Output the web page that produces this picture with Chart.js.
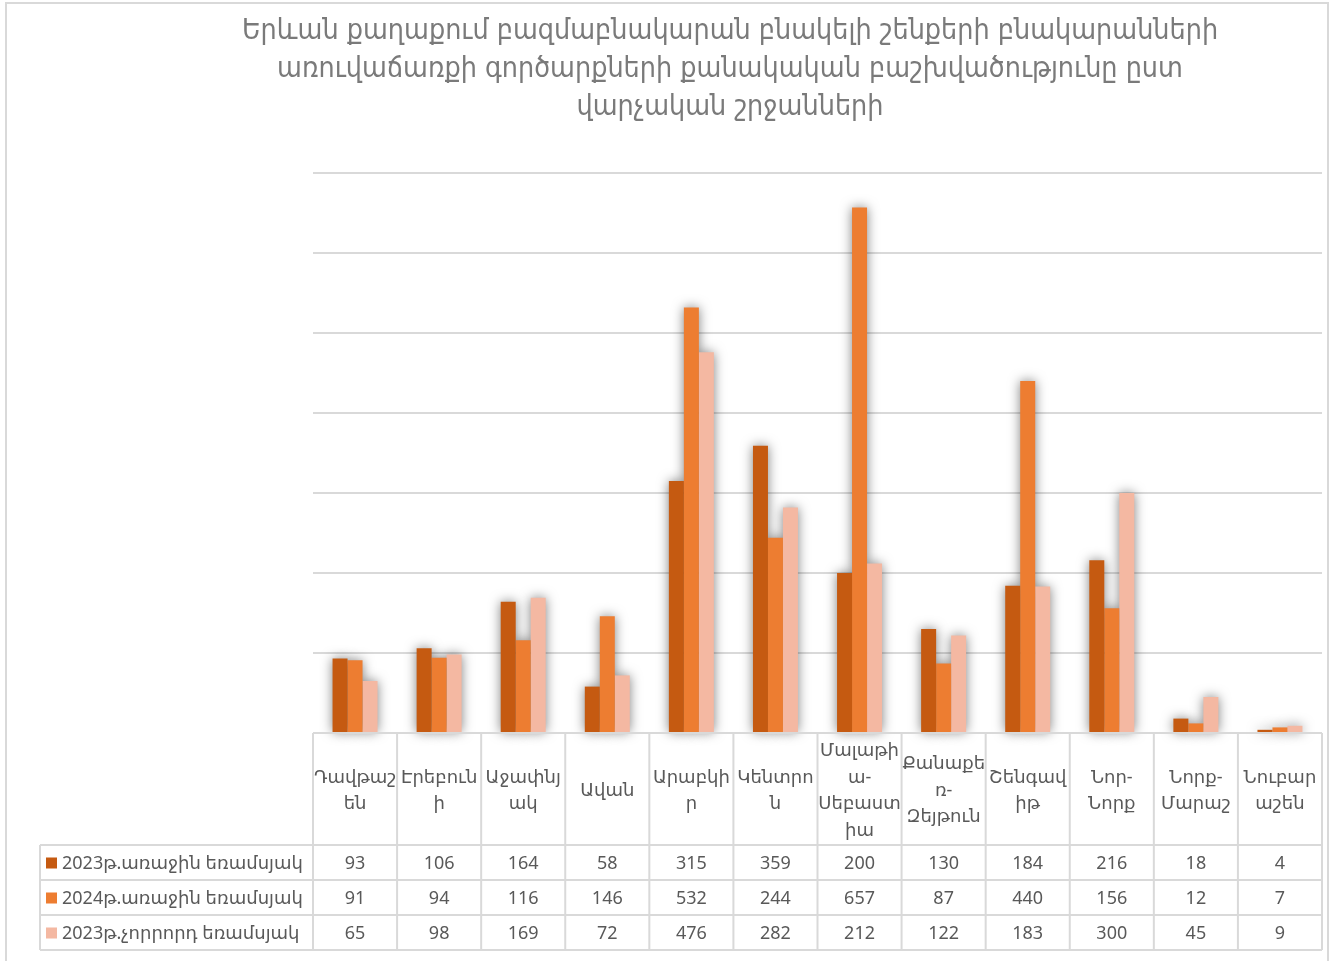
<!DOCTYPE html>
<html>
<head>
<meta charset="utf-8">
<script src="https://cdn.jsdelivr.net/npm/chart.js@4"></script>
<style>
  html, body { margin: 0; padding: 0; background: #fff; }
  #wrap { width: 1332px; height: 961px; position: relative; }
</style>
</head>
<body>
<div id="wrap"><canvas id="c" width="1332" height="961"></canvas></div>
<script>
// data
const titleLines = [
  'Երևան քաղաքում բազմաբնակարան բնակելի շենքերի բնակարանների',
  'առուվաճառքի գործարքների քանակական բաշխվածությունը ըստ',
  'վարչական շրջանների'
];
const districts = [
  ['Դավթաշ', 'են'], ['Էրեբուն', 'ի'], ['Աջափնյ', 'ակ'], ['Ավան'], ['Արաբկի', 'ր'],
  ['Կենտրո', 'ն'], ['Մալաթի', 'ա-', 'Սեբաստ', 'իա'], ['Քանաքե', 'ռ-', 'Զեյթուն'],
  ['Շենգավ', 'իթ'], ['Նոր-', 'Նորք'], ['Նորք-', 'Մարաշ'], ['Նուբար', 'աշեն']
];
const seriesNames = ['2023թ.առաջին եռամսյակ', '2024թ.առաջին եռամսյակ', '2023թ.չորրորդ եռամսյակ'];
const q1_2023 = [93, 106, 164, 58, 315, 359, 200, 130, 184, 216, 18, 4];
const q1_2024 = [91, 94, 116, 146, 532, 244, 657, 87, 440, 156, 12, 7];
const q4_2023 = [65, 98, 169, 72, 476, 282, 212, 122, 183, 300, 45, 9];
const yMax = 700, yStep = 100;

const colors = ['#C55A11', '#ED7D31', '#F4B8A2'];
const FONT = "'Noto Sans', 'DejaVu Sans', sans-serif";
const GRID = '#d9d9d9';
const TXT = '#595959';
const ROW_H = 35;
const TABLE_LEFT = 40;

// frame + white bg
const framePlugin = {
  id: 'frame',
  beforeDraw(chart) {
    const ctx = chart.ctx;
    ctx.save();
    ctx.fillStyle = '#fff';
    ctx.fillRect(0, 0, chart.width, chart.height);
    ctx.strokeStyle = GRID;
    ctx.lineWidth = 2;
    ctx.strokeRect(6, 3, 1322, 980);
    ctx.restore();
  }
};

// soft shadow behind the bars (only the shadow is drawn here)
const shadowPlugin = {
  id: 'barShadow',
  beforeDatasetsDraw(chart) {
    const ctx = chart.ctx, OFF = 5000;
    ctx.save();
    ctx.shadowColor = 'rgba(0,0,0,0.5)';
    ctx.shadowBlur = 12;
    ctx.shadowOffsetX = -OFF;
    ctx.fillStyle = '#000';
    chart.data.datasets.forEach((ds, di) => {
      chart.getDatasetMeta(di).data.forEach(bar => {
        const p = bar.getProps(['x', 'y', 'base', 'width'], true);
        ctx.fillRect(p.x - p.width / 2 + OFF, p.y, p.width, p.base - p.y);
      });
    });
    ctx.restore();
  }
};

// data table under the axis
const tablePlugin = {
  id: 'dataTable',
  afterDraw(chart) {
    const ctx = chart.ctx, area = chart.chartArea, xs = chart.scales.x;
    const n = chart.data.labels.length;
    const colW = (area.right - area.left) / n;
    const bottom = xs.bottom;
    const hdrBottom = bottom - ROW_H * 3;
    ctx.save();
    ctx.strokeStyle = GRID;
    ctx.lineWidth = 2;
    ctx.beginPath();
    ctx.moveTo(area.left, area.bottom); ctx.lineTo(area.right, area.bottom);
    for (let r = 0; r <= 3; r++) {
      const y = hdrBottom + r * ROW_H;
      ctx.moveTo(TABLE_LEFT, y); ctx.lineTo(area.right, y);
    }
    for (let i = 0; i <= n; i++) {
      const x = xs.getPixelForValue(0) - colW / 2 + i * colW;
      ctx.moveTo(x, area.bottom); ctx.lineTo(x, bottom);
    }
    ctx.moveTo(TABLE_LEFT, hdrBottom); ctx.lineTo(TABLE_LEFT, bottom);
    ctx.stroke();

    ctx.font = '18px ' + FONT;
    ctx.textBaseline = 'middle';
    chart.data.datasets.forEach((ds, di) => {
      const cy = hdrBottom + ROW_H * di + ROW_H / 2;
      ctx.fillStyle = ds.backgroundColor;
      ctx.fillRect(TABLE_LEFT + 6, cy - 5, 11, 11);
      ctx.fillStyle = TXT;
      ctx.textAlign = 'left';
      ctx.fillText(ds.label, TABLE_LEFT + 22, cy + 1);
      ctx.textAlign = 'center';
      ds.data.forEach((v, i) => {
        ctx.fillText(String(v), xs.getPixelForValue(i), cy + 1);
      });
    });
    ctx.restore();
  }
};

new Chart(document.getElementById('c'), {
  type: 'bar',
  data: {
    labels: districts,
    datasets: [
      { label: seriesNames[0], data: q1_2023, backgroundColor: colors[0] },
      { label: seriesNames[1], data: q1_2024, backgroundColor: colors[1] },
      { label: seriesNames[2], data: q4_2023, backgroundColor: colors[2] }
    ]
  },
  options: {
    responsive: false,
    animation: false,
    devicePixelRatio: 1,
    layout: { padding: { left: 138, right: 10, top: 0, bottom: 11 } },
    datasets: { bar: { categoryPercentage: 0.535, barPercentage: 1 } },
    plugins: {
      legend: { display: false },
      tooltip: { enabled: false },
      title: {
        display: true,
        text: titleLines,
        color: '#7a7a7a',
        font: { family: "'DejaVu Sans Condensed', 'DejaVu Sans', sans-serif", size: 28.4, weight: 'normal', lineHeight: 38 / 28.4 },
        padding: { top: 13, bottom: 46 }
      }
    },
    scales: {
      x: {
        grid: { display: false },
        border: { display: false },
        ticks: {
          autoSkip: false, maxRotation: 0, minRotation: 0,
          crossAlign: 'center', padding: 10,
          color: TXT,
          font: { family: FONT, size: 18, lineHeight: 26.5 / 18 }
        },
        afterFit(scale) { scale.height = 217; }
      },
      y: {
        min: 0, max: yMax,
        ticks: { display: false, stepSize: yStep },
        border: { display: false },
        grid: { color: GRID, lineWidth: 2, drawTicks: false },
        afterFit(scale) { scale.width = 175; }
      }
    }
  },
  plugins: [framePlugin, shadowPlugin, tablePlugin]
});
</script>
</body>
</html>
